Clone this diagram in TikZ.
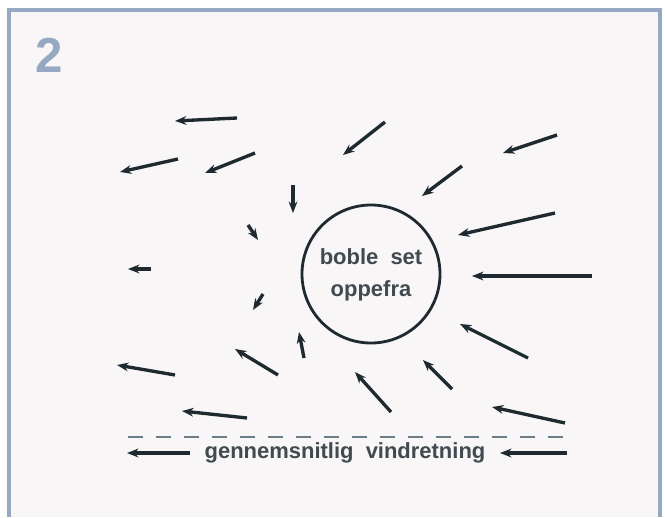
\documentclass[tikz,border=0pt]{standalone}
\usepackage{fontspec}
\setmainfont{Liberation Sans}
\usepackage{xcolor}
\usetikzlibrary{arrows.meta}

\definecolor{framecol}{HTML}{97A8C2}
\definecolor{paper}{HTML}{F8F6F7}
\definecolor{ink}{HTML}{1F2A30}
\definecolor{dashcol}{HTML}{6E7E88}

\begin{document}
\begin{tikzpicture}[x=0.02cm, y=-0.02cm,
    wind/.style={-{Stealth[length=6.5pt, width=5pt]}, line width=1.9pt, draw=ink},
    label/.style={font=\bfseries\fontsize{12.5}{14}\selectfont, text=ink!85, inner sep=1pt}]

    % frame and page
    \useasboundingbox (0,0) rectangle (665,517);
    \fill[white] (0,0) rectangle (665,517);
    \fill[paper] (9,10) rectangle (660,517);
    \draw[framecol, line width=2pt] (9,517) -- (9,10) -- (660,10) -- (660,517);
    \node[text=framecol, font=\bfseries\fontsize{28}{30}\selectfont] (num) at (49,55) {2};

    % the bubble
    \node[draw=ink, line width=1.6pt, circle, minimum size=138*0.02cm, inner sep=0pt] (bubble) at (371,274) {};
    \node[label] (top) at (371,257) {boble\ \ set};
    \node[label] (bot) at (371,291) {oppefra};

    % local wind arrows (tail -> head)
    \foreach \xa/\ya/\xb/\yb in {
        237/118/175/121, 178/159/120/172, 255/153/205/173, 293/185/293/213,
        248/225/258/240, 151/269/128/269, 385/122/343/155, 557/135/503/153,
        462/166/422/196, 555/213/458/235, 592/276/472/276, 263/294/253/310,
        304/358/299/332, 278/375/235/349, 175/375/117/365, 247/418/182/411,
        528/358/460/324, 452/389/423/360, 391/412/355/372, 565/423/492/407}
      \draw[wind] (\xa,\ya) -- (\xb,\yb);

    % mean wind direction
    \draw[dashcol, line width=1.3pt, dash pattern=on 0.3cm off 0.26cm] (128,437) -- (567,437);
    \node[label] (mean) at (345,453) {gennemsnitlig\ \ vindretning};
    \coordinate (lt) at (190,453);
    \coordinate (rt) at (567,453);
    \draw[wind] (lt) -- (127,453);
    \draw[wind] (rt) -- (500,453);
\end{tikzpicture}
\end{document}
